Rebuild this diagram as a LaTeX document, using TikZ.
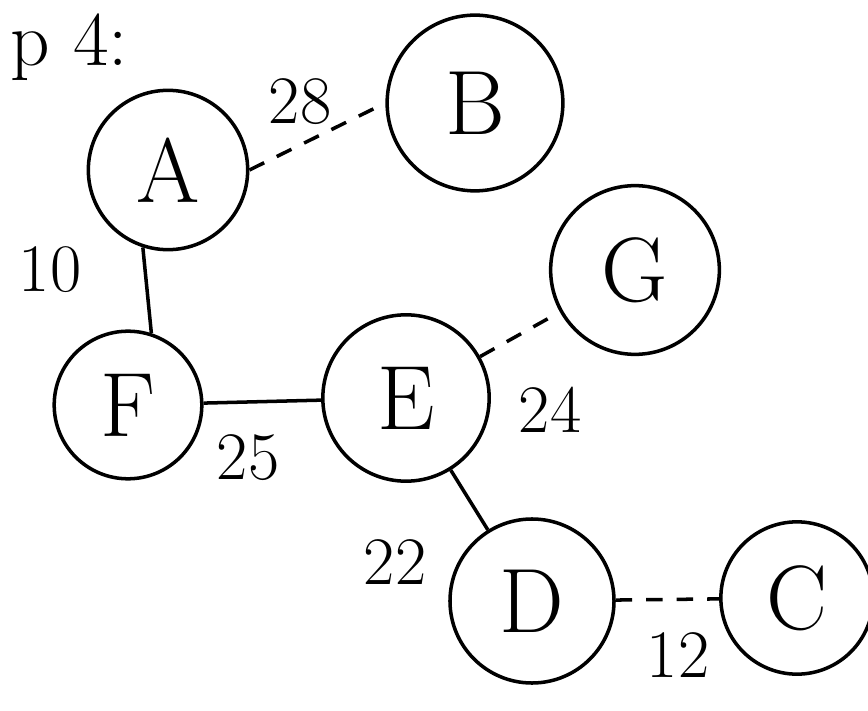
\documentclass[tikz,border=0pt]{standalone}
\usepackage{tikz}
\usetikzlibrary{positioning, calc}

\tikzset{
    vertex/.style={draw, circle, line width=3pt, minimum size=136, inner sep=0pt, font=\fontsize{78}{80}\selectfont},
    weight/.style={font=\fontsize{58}{60}\selectfont},
    treeedge/.style={line width=3pt},
    skipedge/.style={line width=3pt, dash pattern=on 14pt off 12pt}
}

\begin{document}
\begin{tikzpicture}[x=0.03cm, y=-0.03cm]
        \useasboundingbox (0,0) rectangle (868,711);

        % --- HEADING ---
        \node[anchor=north west, inner sep=0pt, font=\fontsize{66}{66}\selectfont] (title) at (10,14) {p 4:};

        % --- VERTICES ---
        \node[vertex] (A) at (168,170) {A};
        \node[vertex, minimum size=150] (B) at (475,103) {B};
        \node[vertex, minimum size=144] (G) at (635,270) {G};
        \node[vertex, minimum size=126] (F) at (128,405) {F};
        \node[vertex, minimum size=142] (E) at (406,398) {E};
        \node[vertex, minimum size=140] (D) at (532,601) {D};
        \node[vertex, minimum size=130] (C) at (797,598) {C};

        % --- EDGES ---
        \draw[skipedge] (A.east) -- (B.west);
        \draw[treeedge] (A.252) -- (F.72);
        \draw[treeedge] (F) -- (E);
        \draw[skipedge] (E) -- (G);
        \draw[treeedge] (E) -- (D);
        \draw[skipedge] (D) -- (C);

        % --- WEIGHTS ---
        \node[weight] (w28) at (300,102) {28};
        \node[weight] (w10) at (50,270) {10};
        \node[weight] (w25) at (248,458) {25};
        \node[weight] (w24) at (550,410) {24};
        \node[weight] (w22) at (395,562) {22};
        \node[weight] (w12) at (678,655) {12};

    \end{tikzpicture}
\end{document}
